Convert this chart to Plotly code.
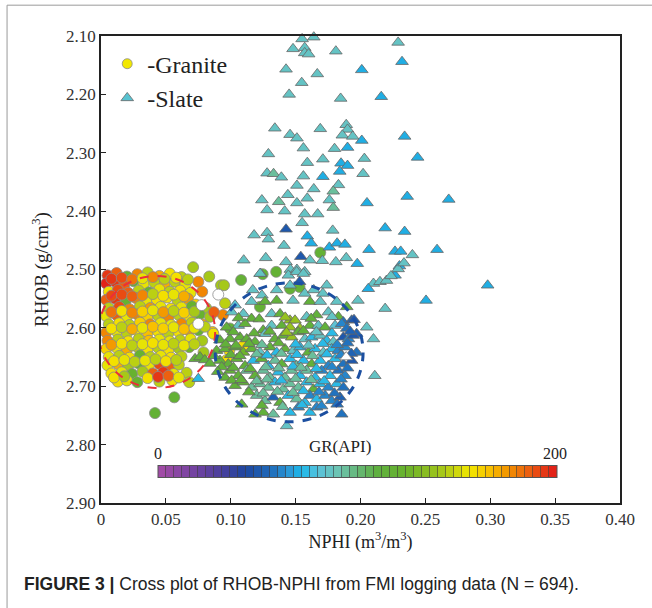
import plotly.graph_objects as go

# ---------------- data ----------------
granite_nphi = [
    0.005, 0.012, 0.020, 0.028, 0.036, 0.045, 0.053, 0.062, 0.071,
    0.004, 0.011, 0.018, 0.025, 0.033, 0.041, 0.049, 0.057, 0.065, 0.075, 0.0834,
    0.006, 0.013, 0.021, 0.029, 0.037, 0.045, 0.053, 0.061, 0.069, 0.078,
    0.004, 0.011, 0.019, 0.027, 0.035, 0.043, 0.051, 0.059, 0.067, 0.073,
    0.006, 0.014, 0.022, 0.030, 0.038, 0.046, 0.054, 0.062, 0.070, 0.081,
    0.004, 0.012, 0.020, 0.028, 0.036, 0.044, 0.052, 0.060, 0.068, 0.076, 0.084,
    0.006, 0.014, 0.022, 0.030, 0.038, 0.046, 0.054, 0.062, 0.070, 0.078,
    0.004, 0.012, 0.020, 0.028, 0.036, 0.044, 0.052, 0.060, 0.068, 0.075, 0.086,
    0.005, 0.013, 0.021, 0.029, 0.037, 0.045, 0.053, 0.061, 0.069, 0.078,
    0.004, 0.012, 0.020, 0.028, 0.036, 0.044, 0.052, 0.060, 0.068, 0.079,
    0.006, 0.014, 0.022, 0.030, 0.038, 0.046, 0.054, 0.062,
    0.005, 0.013, 0.021, 0.029, 0.037, 0.045, 0.053, 0.060,
    0.008, 0.016, 0.024, 0.032, 0.040, 0.048, 0.056, 0.066,
    0.013, 0.020, 0.028, 0.045, 0.055, 0.068,
    0.0416, 0.0565, 0.0925, 0.0948, 0.108, 0.0956, 0.094, 0.087, 0.0994, 0.0866,
    0.0989, 0.0969, 0.1097, 0.1225, 0.1457, 0.135, 0.1246, 0.153, 0.169,
    0.008, 0.016, 0.024, 0.032, 0.040, 0.049, 0.058, 0.067,
    0.008, 0.016, 0.024, 0.032, 0.040, 0.048, 0.056, 0.064,
    0.008, 0.016, 0.024, 0.032, 0.040, 0.048, 0.056, 0.064, 0.072,
    0.008, 0.016, 0.024, 0.032, 0.040, 0.048, 0.056, 0.064, 0.072, 0.080,
    0.008, 0.016, 0.024, 0.032, 0.040, 0.048, 0.056, 0.064, 0.072,
    0.010, 0.018, 0.026, 0.034, 0.042, 0.050, 0.058,
    0.010, 0.018, 0.036, 0.044, 0.052, 0.060,
]
granite_rhob = [
    2.510, 2.506, 2.512, 2.508, 2.505, 2.511, 2.507, 2.513, 2.496,
    2.524, 2.521, 2.526, 2.520, 2.524, 2.522, 2.527, 2.521, 2.525, 2.521, 2.512,
    2.538, 2.535, 2.540, 2.536, 2.539, 2.534, 2.538, 2.536, 2.540, 2.538,
    2.552, 2.550, 2.554, 2.549, 2.553, 2.551, 2.548, 2.553, 2.550, 2.560,
    2.566, 2.564, 2.568, 2.563, 2.566, 2.564, 2.567, 2.565, 2.563, 2.566,
    2.580, 2.578, 2.581, 2.577, 2.580, 2.579, 2.582, 2.578, 2.580, 2.577, 2.581,
    2.594, 2.592, 2.595, 2.591, 2.594, 2.592, 2.595, 2.593, 2.591, 2.594,
    2.608, 2.606, 2.609, 2.605, 2.608, 2.606, 2.609, 2.607, 2.605, 2.604, 2.607,
    2.622, 2.620, 2.623, 2.619, 2.622, 2.620, 2.623, 2.621, 2.619, 2.622,
    2.636, 2.634, 2.637, 2.633, 2.636, 2.634, 2.637, 2.635, 2.633, 2.642,
    2.650, 2.648, 2.651, 2.647, 2.650, 2.648, 2.651, 2.649,
    2.664, 2.662, 2.665, 2.661, 2.664, 2.662, 2.665, 2.663,
    2.678, 2.676, 2.679, 2.675, 2.678, 2.676, 2.679, 2.677,
    2.692, 2.690, 2.693, 2.692, 2.690, 2.693,
    2.746, 2.719, 2.527, 2.527, 2.518, 2.558, 2.578, 2.573, 2.601, 2.610,
    2.639, 2.655, 2.630, 2.564, 2.533, 2.504, 2.508, 2.530, 2.471,
    2.516, 2.514, 2.517, 2.515, 2.513, 2.516, 2.514, 2.517,
    2.545, 2.543, 2.546, 2.544, 2.542, 2.545, 2.543, 2.546,
    2.573, 2.571, 2.574, 2.572, 2.570, 2.573, 2.571, 2.574, 2.572,
    2.601, 2.599, 2.602, 2.600, 2.598, 2.601, 2.599, 2.602, 2.600, 2.598,
    2.629, 2.627, 2.630, 2.628, 2.626, 2.629, 2.627, 2.630, 2.628,
    2.657, 2.655, 2.658, 2.656, 2.654, 2.657, 2.655,
    2.685, 2.683, 2.686, 2.684, 2.682, 2.685,
]
granite_gr = [
    194, 186, 120, 176, 144, 170, 156, 144, 140,
    196, 192, 184, 118, 154, 144, 170, 144, 154, 176, 140,
    156, 190, 186, 144, 120, 154, 144, 156, 154, 176,
    186, 194, 120, 176, 154, 156, 156, 144, 174, 160,
    144, 190, 176, 144, 174, 154, 156, 154, 120, 140,
    154, 184, 154, 176, 160, 144, 176, 144, 156, 122, 140,
    144, 156, 144, 160, 176, 154, 154, 176, 144, 170,
    176, 154, 144, 158, 166, 156, 144, 156, 174, 120, 166,
    176, 144, 156, 144, 166, 154, 154, 144, 154, 140,
    160, 154, 170, 144, 156, 144, 158, 140, 125, 140,
    154, 144, 156, 122, 144, 154, 156, 144,
    154, 170, 140, 120, 154, 190, 186, 144,
    156, 154, 122, 140, 186, 194, 154, 144,
    158, 154, 120, 144, 156, 144,
    118, 118, 140, 140, 118, 144, 176, 186, 118, 156,
    156, 156, 156, 118, 118, 118, 118, 118, 118,
    192, 188, 180, 154, 176, 144, 156, 144,
    190, 190, 184, 176, 144, 156, 154, 170,
    182, 156, 176, 160, 154, 174, 144, 160, 140,
    156, 144, 170, 154, 166, 160, 154, 166, 154, 144,
    174, 156, 144, 154, 156, 154, 144, 154, 144,
    156, 154, 144, 154, 144, 156, 144,
    156, 140, 156, 192, 186, 154,
]
# granite samples drawn as empty (white) circles
granite_blank_nphi = [0.0904, 0.0776, 0.075]
granite_blank_rhob = [2.543, 2.561, 2.593]

slate_nphi = [
    # sparse upper cloud
    0.1405, 0.155, 0.164, 0.148, 0.157, 0.157, 0.160, 0.181, 0.229, 0.232,
    0.1426, 0.1667, 0.201, 0.1547, 0.145, 0.1847, 0.216, 0.134, 0.1457, 0.151,
    0.169, 0.189, 0.190, 0.186, 0.194, 0.201, 0.234, 0.156, 0.180, 0.190,
    0.129, 0.244, 0.159, 0.171, 0.185, 0.190, 0.203, 0.184, 0.128, 0.133,
    0.139, 0.156, 0.171, 0.202, 0.151, 0.164, 0.183, 0.179, 0.144, 0.124,
    0.137, 0.151, 0.159, 0.176, 0.179, 0.205, 0.236, 0.268, 0.128, 0.1416,
    0.157, 0.167, 0.155, 0.118, 0.128, 0.129, 0.1426, 0.159, 0.1786, 0.219,
    0.234, 0.162, 0.141, 0.176, 0.182, 0.188, 0.2066, 0.2266, 0.231, 0.259,
    0.110, 0.127, 0.1426, 0.154, 0.161, 0.1706, 0.181, 0.189, 0.1975, 0.230,
    0.146, 0.151, 0.157, 0.123,
    # right of the blue ellipse
    0.210, 0.215, 0.220, 0.2266, 0.206, 0.198, 0.219, 0.2048, 0.210, 0.211,
    0.2235, 0.229, 0.2335, 0.240, 0.2505, 0.298,
    # main cluster
    0.1226, 0.1444, 0.1508, 0.156, 0.153, 0.1457,
    0.117, 0.124, 0.1354, 0.157, 0.164, 0.174, 0.171,
    0.1033, 0.116, 0.1264, 0.1354, 0.148, 0.161, 0.169, 0.1817, 0.1894,
    0.1007, 0.1097, 0.116, 0.1315, 0.138, 0.1457, 0.1495, 0.1585, 0.1662, 0.1752, 0.183, 0.1868, 0.1932, 0.195,
    0.0968, 0.1058, 0.111, 0.125, 0.1315, 0.1393, 0.1457, 0.1534, 0.161, 0.1675, 0.1727, 0.1804, 0.1855, 0.1894, 0.197,
    0.0917, 0.0994, 0.1071, 0.1123, 0.1187, 0.1264, 0.134, 0.1405, 0.147, 0.152, 0.1572, 0.1624, 0.1688, 0.174, 0.1791, 0.1868, 0.1907, 0.1945,
    0.0891, 0.0956, 0.1033, 0.1097, 0.1161, 0.1226, 0.1303, 0.1354, 0.1418, 0.1483, 0.1534, 0.1598, 0.165, 0.1714, 0.1778, 0.1829, 0.1881, 0.197,
    0.0917, 0.0981, 0.1046, 0.111, 0.1174, 0.1238, 0.129, 0.1341, 0.1393, 0.1457, 0.1508, 0.156, 0.1624, 0.1688, 0.1752, 0.1804, 0.1868, 0.1932,
    0.0994, 0.1058, 0.1123, 0.1187, 0.1251, 0.1303, 0.1367, 0.1418, 0.147, 0.1534, 0.1585, 0.165, 0.1701, 0.1765, 0.1829, 0.1881,
    0.1033, 0.1097, 0.1161, 0.1226, 0.129, 0.1341, 0.1405, 0.1457, 0.1521, 0.1585, 0.1637, 0.1688, 0.1752, 0.1817, 0.1868,
    0.1084, 0.120, 0.1264, 0.1328, 0.138, 0.1444, 0.1508, 0.1572, 0.1611, 0.1662, 0.1727, 0.1778, 0.1842,
    0.1187, 0.1251, 0.1328, 0.1457, 0.1521, 0.161, 0.1662, 0.1855, 0.1431,
    0.0725, 0.0763, 0.080, 0.084, 0.075, 0.093, 0.0956, 0.1007, 0.087, 0.090,
    0.106, 0.122, 0.142, 0.162, 0.178,
    0.102, 0.118, 0.130, 0.143, 0.156, 0.166, 0.178, 0.192,
    0.096, 0.104, 0.114, 0.124, 0.137, 0.150, 0.160, 0.171, 0.182, 0.190,
    0.100, 0.107, 0.120, 0.128, 0.139, 0.151, 0.163, 0.174, 0.185, 0.193,
    0.102, 0.115, 0.127, 0.137, 0.148, 0.154, 0.166, 0.178, 0.190,
    0.108, 0.120, 0.128, 0.139, 0.150, 0.162, 0.172, 0.185,
    0.114, 0.125, 0.136, 0.148, 0.156, 0.168, 0.180,
    0.124, 0.140, 0.155, 0.170, 0.182,
]
slate_rhob = [
    2.097, 2.105, 2.102, 2.122, 2.120, 2.129, 2.131, 2.126, 2.111, 2.144,
    2.157, 2.165, 2.158, 2.180, 2.200, 2.207, 2.204, 2.258, 2.269, 2.275,
    2.259, 2.252, 2.260, 2.270, 2.272, 2.279, 2.272, 2.292, 2.293, 2.291,
    2.302, 2.308, 2.317, 2.311, 2.318, 2.322, 2.310, 2.332, 2.335, 2.336,
    2.342, 2.340, 2.341, 2.336, 2.356, 2.362, 2.355, 2.366, 2.372, 2.381,
    2.384, 2.386, 2.378, 2.381, 2.394, 2.386, 2.375, 2.380, 2.398, 2.400,
    2.405, 2.405, 2.420, 2.441, 2.437, 2.448, 2.431, 2.443, 2.433, 2.429,
    2.435, 2.455, 2.459, 2.462, 2.455, 2.457, 2.466, 2.469, 2.469, 2.466,
    2.484, 2.480, 2.487, 2.478, 2.484, 2.485, 2.487, 2.480, 2.490, 2.494,
    2.500, 2.500, 2.504, 2.507,
    2.524, 2.521, 2.519, 2.510, 2.533, 2.553, 2.567, 2.599, 2.619, 2.682,
    2.511, 2.499, 2.489, 2.475, 2.553, 2.527,
    2.507, 2.510, 2.504, 2.507, 2.521, 2.527,
    2.535, 2.544, 2.535, 2.541, 2.535, 2.527, 2.541,
    2.561, 2.555, 2.555, 2.553, 2.553, 2.555, 2.555, 2.555, 2.564,
    2.573, 2.576, 2.584, 2.576, 2.576, 2.587, 2.587, 2.581, 2.578, 2.573, 2.581, 2.590, 2.587, 2.586,
    2.599, 2.596, 2.593, 2.604, 2.596, 2.596, 2.599, 2.601, 2.596, 2.596, 2.599, 2.596, 2.593, 2.601, 2.610,
    2.621, 2.619, 2.616, 2.619, 2.624, 2.610, 2.619, 2.613, 2.616, 2.607, 2.619, 2.616, 2.613, 2.622, 2.624, 2.616, 2.619, 2.613,
    2.639, 2.636, 2.633, 2.642, 2.636, 2.642, 2.633, 2.642, 2.636, 2.639, 2.633, 2.642, 2.636, 2.642, 2.636, 2.639, 2.633, 2.642,
    2.656, 2.662, 2.653, 2.665, 2.656, 2.653, 2.665, 2.656, 2.662, 2.653, 2.665, 2.656, 2.662, 2.656, 2.665, 2.653, 2.662, 2.656,
    2.673, 2.682, 2.673, 2.682, 2.673, 2.685, 2.676, 2.685, 2.673, 2.682, 2.673, 2.685, 2.673, 2.682, 2.673, 2.682,
    2.699, 2.693, 2.702, 2.696, 2.702, 2.693, 2.705, 2.696, 2.702, 2.693, 2.705, 2.696, 2.702, 2.696, 2.702,
    2.731, 2.716, 2.725, 2.719, 2.728, 2.716, 2.722, 2.728, 2.716, 2.722, 2.716, 2.725, 2.719,
    2.748, 2.745, 2.748, 2.745, 2.736, 2.745, 2.736, 2.748, 2.768,
    2.653, 2.650, 2.655, 2.661, 2.687, 2.667, 2.685, 2.690, 2.648, 2.675,
    2.583, 2.585, 2.582, 2.584, 2.581,
    2.607, 2.609, 2.606, 2.608, 2.605, 2.607, 2.609, 2.606,
    2.628, 2.630, 2.627, 2.629, 2.626, 2.628, 2.630, 2.627, 2.629, 2.626,
    2.646, 2.648, 2.645, 2.647, 2.644, 2.646, 2.648, 2.645, 2.647, 2.644,
    2.668, 2.670, 2.667, 2.669, 2.666, 2.668, 2.670, 2.667, 2.669,
    2.689, 2.691, 2.688, 2.690, 2.687, 2.689, 2.691, 2.688,
    2.710, 2.712, 2.709, 2.711, 2.708, 2.710, 2.712,
    2.733, 2.735, 2.732, 2.734, 2.731,
]
slate_gr = [
    84, 84, 84, 84, 84, 84, 84, 84, 84, 68,
    84, 84, 68, 84, 84, 84, 68, 84, 84, 84,
    84, 84, 84, 84, 84, 68, 68, 84, 84, 68,
    84, 68, 84, 84, 68, 68, 84, 68, 84, 92,
    84, 84, 68, 84, 84, 84, 84, 92, 84, 84,
    92, 84, 84, 84, 92, 68, 68, 68, 84, 84,
    84, 84, 84, 84, 84, 84, 50, 68, 84, 68,
    68, 68, 84, 68, 68, 68, 68, 68, 68, 68,
    84, 84, 84, 50, 84, 84, 84, 84, 68, 68,
    84, 84, 84, 84,
    84, 84, 84, 68, 68, 84, 84, 84, 84, 84,
    84, 84, 84, 84, 68, 68,
    84, 84, 84, 84, 50, 84,
    84, 84, 84, 84, 84, 84, 84,
    80, 84, 115, 115, 84, 115, 84, 84, 115,
    84, 84, 115, 84, 115, 138, 138, 84, 115, 84, 115, 58, 52, 50,
    115, 84, 115, 115, 84, 115, 138, 138, 115, 84, 115, 80, 60, 58, 56,
    115, 115, 115, 115, 115, 84, 115, 115, 138, 115, 84, 72, 84, 72, 84, 50, 62, 50,
    115, 115, 115, 125, 115, 84, 115, 72, 115, 84, 72, 115, 72, 84, 72, 62, 62, 58,
    115, 115, 115, 115, 72, 115, 72, 95, 115, 72, 95, 72, 115, 72, 60, 72, 58, 50,
    115, 115, 95, 115, 95, 95, 72, 95, 95, 72, 95, 72, 62, 72, 58, 60,
    115, 115, 95, 95, 95, 72, 95, 95, 95, 72, 115, 72, 60, 72, 58,
    115, 95, 95, 52, 115, 72, 95, 72, 62, 72, 60, 60, 52,
    115, 115, 95, 72, 60, 72, 60, 58, 84,
    115, 115, 115, 115, 72, 115, 115, 115, 115, 115,
    115, 115, 138, 115, 84,
    115, 115, 115, 138, 115, 84, 72, 52,
    115, 115, 115, 95, 115, 72, 84, 72, 62, 58,
    115, 115, 95, 72, 95, 72, 95, 72, 60, 56,
    115, 115, 95, 95, 72, 95, 72, 62, 58,
    115, 95, 95, 72, 95, 95, 72, 60,
    115, 95, 95, 95, 72, 62, 58,
    115, 95, 72, 60, 58,
]
slate_blank_nphi = [0.189]
slate_blank_rhob = [2.650]

x_ticks = [0, 0.05, 0.10, 0.15, 0.20, 0.25, 0.30, 0.35, 0.40]
x_tick_text = ["0", "0.05", "0.10", "0.15", "0.20", "0.25", "0.30", "0.35", "0.40"]
y_ticks = [2.10, 2.20, 2.30, 2.40, 2.50, 2.60, 2.70, 2.80, 2.90]
y_tick_text = ["2.10", "2.20", "2.30", "2.40", "2.50", "2.60", "2.70", "2.80", "2.90"]

gr_min, gr_max = 0, 200
gr_steps = 50

# guide ellipses (nphi0, nphi1, rhob0, rhob1)
granite_ellipse = (-0.002, 0.088, 2.511, 2.703)
slate_ellipse = (0.088, 0.202, 2.523, 2.761)

# ---------------- styling ----------------
anchors = [
    (0.00, "#a64ca6"), (0.08, "#7a44a2"), (0.16, "#4a3f9c"), (0.22, "#1e48a0"),
    (0.28, "#1f68b8"), (0.33, "#2b9ad8"), (0.36, "#1ab8ea"), (0.40, "#58c2dc"),
    (0.45, "#6cc4b4"), (0.50, "#66b878"), (0.55, "#5fb040"), (0.62, "#68b22c"),
    (0.70, "#9cc41c"), (0.75, "#d0d80c"), (0.78, "#f2e800"), (0.83, "#f8c000"),
    (0.88, "#f29000"), (0.93, "#ec6010"), (1.00, "#e01818"),
]


def hex2rgb(h):
    h = h.lstrip("#")
    return tuple(int(h[i:i + 2], 16) for i in (0, 2, 4))


def interp(t):
    for (t0, c0), (t1, c1) in zip(anchors[:-1], anchors[1:]):
        if t0 <= t <= t1:
            f = (t - t0) / (t1 - t0) if t1 > t0 else 0
            a, b = hex2rgb(c0), hex2rgb(c1)
            r = [round(a[k] + (b[k] - a[k]) * f) for k in range(3)]
            return f"rgb({r[0]},{r[1]},{r[2]})"
    return anchors[-1][1]


stepped = []
for i in range(gr_steps):
    c = interp((i + 0.5) / gr_steps)
    stepped.append([i / gr_steps, c])
    stepped.append([(i + 1) / gr_steps, c])

serif = "Times New Roman"
sans = "Liberation Sans"

fig = go.Figure()

fig.add_trace(go.Scatter(
    x=granite_nphi, y=granite_rhob, mode="markers", showlegend=False,
    marker=dict(symbol="circle", size=11, color=granite_gr, coloraxis="coloraxis",
                line=dict(color="#8a8a8a", width=0.8)),
))
fig.add_trace(go.Scatter(
    x=granite_blank_nphi, y=granite_blank_rhob, mode="markers", showlegend=False,
    marker=dict(symbol="circle", size=11, color="white", line=dict(color="#8a8a8a", width=0.8)),
))
fig.add_trace(go.Scatter(
    x=slate_nphi, y=slate_rhob, mode="markers", showlegend=False, cliponaxis=False,
    marker=dict(symbol="triangle-up", size=11, color=slate_gr, coloraxis="coloraxis",
                line=dict(color="#666666", width=0.8)),
))
fig.add_trace(go.Scatter(
    x=slate_blank_nphi, y=slate_blank_rhob, mode="markers", showlegend=False,
    marker=dict(symbol="triangle-up", size=11, color="white", line=dict(color="#777", width=0.8)),
))
# legend entries
fig.add_trace(go.Scatter(
    x=[None], y=[None], mode="markers", name="-Granite", legendgroup="g",
    marker=dict(symbol="circle", size=10, color="#f2e800", line=dict(color="#8a8a8a", width=0.8)),
))
fig.add_trace(go.Scatter(
    x=[None], y=[None], mode="markers", name="-Slate", legendgroup="s",
    marker=dict(symbol="triangle-up", size=11, color="#58c2d0", line=dict(color="#666", width=0.8)),
))

fig.add_shape(type="circle", xref="x", yref="y",
              x0=granite_ellipse[0], x1=granite_ellipse[1],
              y0=granite_ellipse[2], y1=granite_ellipse[3],
              line=dict(color="#e8303a", width=2, dash="dash"))
fig.add_shape(type="circle", xref="x", yref="y",
              x0=slate_ellipse[0], x1=slate_ellipse[1],
              y0=slate_ellipse[2], y1=slate_ellipse[3],
              line=dict(color="#1c4fa0", width=3, dash="dash"))

# figure frame
fig.add_shape(type="line", xref="paper", yref="paper", x0=-0.181, x1=1.07, y0=1.066, y1=1.066,
              line=dict(color="#9a9a9a", width=1))
fig.add_shape(type="line", xref="paper", yref="paper", x0=-0.181, x1=-0.181, y0=1.066, y1=-0.23,
              line=dict(color="#9a9a9a", width=1))

fig.add_annotation(x=0.1098, y=0.0835, xref="paper", yref="paper", text=str(gr_min),
                   xanchor="center", showarrow=False, font=dict(family=serif, size=16, color="#222"))
fig.add_annotation(x=0.875, y=0.0835, xref="paper", yref="paper", text=str(gr_max),
                   xanchor="center", showarrow=False, font=dict(family=serif, size=16, color="#222"))
fig.add_annotation(x=0.4605, y=0.096, xref="paper", yref="paper", text="GR(API)",
                   xanchor="center", showarrow=False, font=dict(family=serif, size=17, color="#222"))

fig.add_annotation(x=-0.152, y=-0.173, xref="paper", yref="paper", xanchor="left", yanchor="middle",
                   text="<b>FIGURE 3 |</b> Cross plot of RHOB-NPHI from FMI logging data (N = 694).",
                   showarrow=False, font=dict(family=sans, size=17.5, color="#222"))

fig.update_layout(
    width=652, height=608,
    margin=dict(l=101, r=32, t=36, b=105),
    paper_bgcolor="white", plot_bgcolor="white",
    font=dict(family=serif, color="#222"),
    coloraxis=dict(
        cmin=gr_min, cmax=gr_max, colorscale=stepped,
        colorbar=dict(
            orientation="h", x=0.494, xanchor="center", y=0.0535, yanchor="middle",
            len=0.769, lenmode="fraction", thickness=12, thicknessmode="pixels",
            outlinewidth=1, outlinecolor="#555",
            tickmode="array", tickvals=list(range(gr_min, gr_max + 1, 4)),
            ticks="inside", ticklen=12, tickcolor="rgba(60,60,60,0.6)", tickwidth=1,
            showticklabels=False, xpad=0, ypad=0,
        ),
    ),
    legend=dict(x=0.012, y=0.988, xanchor="left", yanchor="top",
                font=dict(family=serif, size=24, color="#222"),
                bgcolor="rgba(0,0,0,0)", tracegroupgap=0),
    xaxis=dict(range=[0, 0.40], tickmode="array", tickvals=x_ticks, ticktext=x_tick_text,
               ticks="inside", ticklen=5, tickcolor="#222", showgrid=False, zeroline=False,
               showline=True, linecolor="#222", linewidth=1.5, mirror=True,
               tickfont=dict(family=serif, size=17, color="#333"),
               title=dict(text="NPHI (m<sup>3</sup>/m<sup>3</sup>)", standoff=6,
                          font=dict(family=serif, size=18, color="#222"))),
    yaxis=dict(range=[2.90, 2.10], tickmode="array", tickvals=y_ticks, ticktext=y_tick_text,
               ticks="inside", ticklen=5, tickcolor="#222", showgrid=False, zeroline=False,
               showline=True, linecolor="#222", linewidth=1.5, mirror=True,
               tickfont=dict(family=serif, size=17, color="#333"),
               title=dict(text="RHOB (g/cm<sup>3</sup>)", standoff=12,
                          font=dict(family=serif, size=19, color="#222"))),
)

fig.write_html("out.html")
